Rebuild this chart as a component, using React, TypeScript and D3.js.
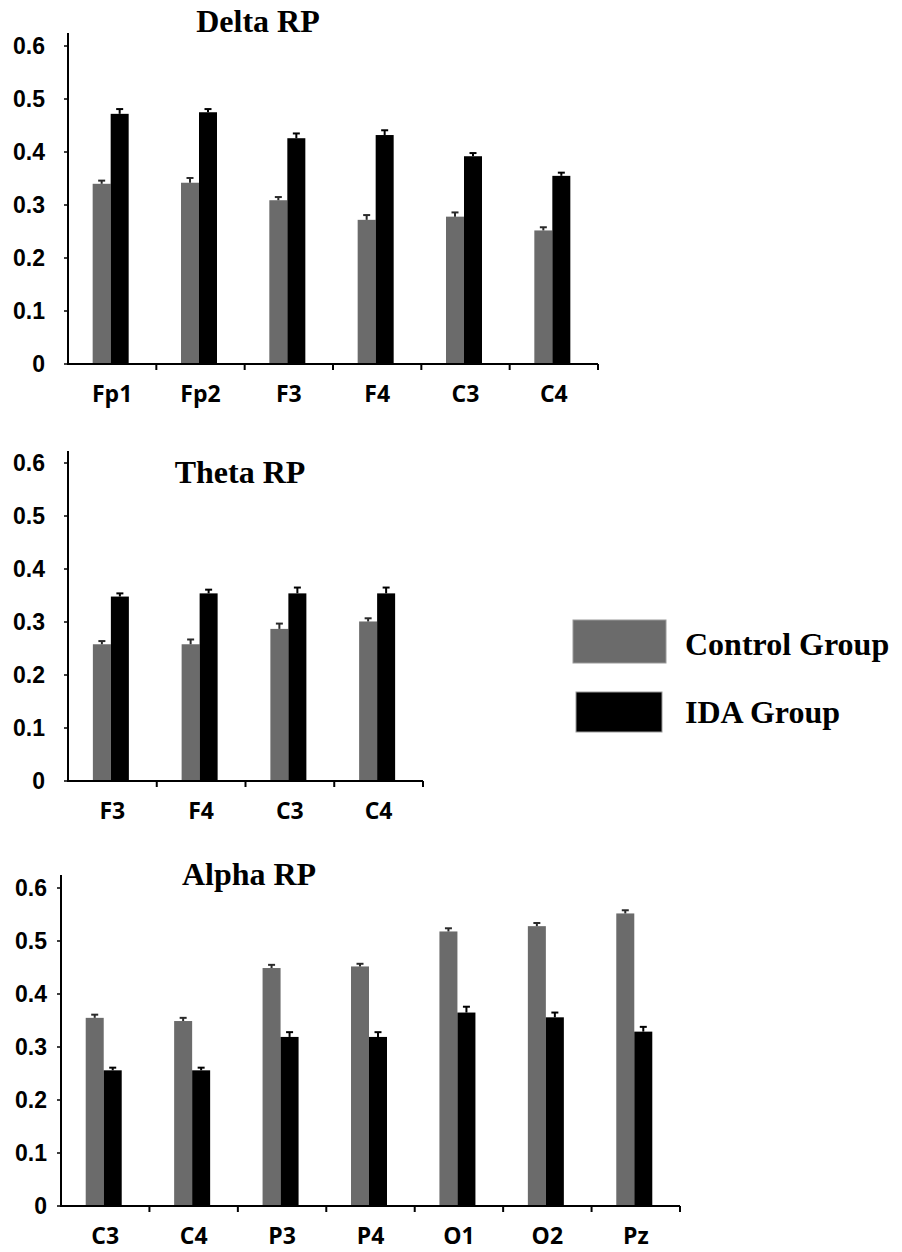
import React from "react";
import * as d3 from "d3";

const Y_TICKS = [0, 0.1, 0.2, 0.3, 0.4, 0.5, 0.6];
const Y_TICK_LABELS = ["0", "0.1", "0.2", "0.3", "0.4", "0.5", "0.6"];

const DELTA_CATS = ["Fp1", "Fp2", "F3", "F4", "C3", "C4"];
const DELTA_CONTROL = [0.34, 0.342, 0.309, 0.272, 0.278, 0.252];
const DELTA_CONTROL_ERR = [0.006, 0.009, 0.006, 0.009, 0.008, 0.006];
const DELTA_IDA = [0.472, 0.475, 0.426, 0.432, 0.392, 0.355];
const DELTA_IDA_ERR = [0.009, 0.006, 0.009, 0.009, 0.006, 0.006];

const THETA_CATS = ["F3", "F4", "C3", "C4"];
const THETA_CONTROL = [0.258, 0.258, 0.287, 0.301];
const THETA_CONTROL_ERR = [0.006, 0.009, 0.01, 0.006];
const THETA_IDA = [0.348, 0.354, 0.354, 0.354];
const THETA_IDA_ERR = [0.006, 0.007, 0.011, 0.011];

const ALPHA_CATS = ["C3", "C4", "P3", "P4", "O1", "O2", "Pz"];
const ALPHA_CONTROL = [0.355, 0.349, 0.449, 0.452, 0.518, 0.528, 0.552];
const ALPHA_CONTROL_ERR = [0.006, 0.006, 0.006, 0.005, 0.006, 0.006, 0.006];
const ALPHA_IDA = [0.256, 0.256, 0.319, 0.319, 0.365, 0.356, 0.329];
const ALPHA_IDA_ERR = [0.005, 0.005, 0.009, 0.009, 0.011, 0.009, 0.009];

const SERIES = ["Control Group", "IDA Group"];
const COLORS = ["#6b6b6b", "#000000"];
const ERR_COLORS = ["#2a2a2a", "#000000"];

const SERIF = "'Liberation Serif', 'Times New Roman', serif";
const SANS = "'Liberation Sans', Arial, sans-serif";
const XFONT = "'Open Sans', 'Liberation Sans', sans-serif";

type PanelProps = {
  title: string;
  titleX: number;
  titleY: number;
  cats: string[];
  control: number[];
  controlErr: number[];
  ida: number[];
  idaErr: number[];
  axisX: number;
  axisEnd: number;
  y0: number;
  axisTop: number;
  labelRight: number;
};

function Panel(p: PanelProps) {
  const x = d3.scaleBand<string>().domain(p.cats).range([p.axisX, p.axisEnd]).padding(0);
  const y = d3.scaleLinear().domain([0, 0.6]).range([p.y0, p.y0 - 318]);
  const pairW = 36;
  const sub = d3.scaleBand<string>().domain(SERIES).range([0, pairW]).padding(0);
  const values = [p.control, p.ida];
  const errs = [p.controlErr, p.idaErr];
  const bw = x.bandwidth();
  return (
    <g>
      <text x={p.titleX} y={p.titleY} textAnchor="middle" fontFamily={SERIF} fontWeight="bold" fontSize={32}>
        {p.title}
      </text>
      {p.cats.map((c, i) =>
        SERIES.map((s, si) => {
          const left = (x(c) as number) + bw / 2 - pairW / 2 - 1.5 + (sub(s) as number);
          const v = values[si][i];
          const e = errs[si][i];
          const cx = left + sub.bandwidth() / 2;
          return (
            <g key={c + s}>
              <rect x={left} y={y(v)} width={sub.bandwidth()} height={p.y0 - y(v)} fill={COLORS[si]} />
              <line x1={cx} x2={cx} y1={y(v)} y2={y(v + e)} stroke={ERR_COLORS[si]} strokeWidth={2} />
              <line x1={cx - 3.5} x2={cx + 3.5} y1={y(v + e)} y2={y(v + e)} stroke={ERR_COLORS[si]} strokeWidth={2} />
            </g>
          );
        })
      )}
      <line x1={p.axisX} x2={p.axisX} y1={p.axisTop} y2={p.y0 + 1} stroke="#000" strokeWidth={2} />
      <line x1={p.axisX} x2={p.axisEnd} y1={p.y0} y2={p.y0} stroke="#000" strokeWidth={2} />
      {Y_TICKS.map((t, i) => (
        <g key={"yt" + i}>
          <line x1={p.axisX - 4} x2={p.axisX} y1={y(t)} y2={y(t)} stroke="#000" strokeWidth={1.5} />
          <text
            x={p.labelRight}
            y={y(t)}
            dy="0.36em"
            textAnchor="end"
            fontFamily={SANS}
            fontWeight="bold"
            fontSize={23}
          >
            {Y_TICK_LABELS[i]}
          </text>
        </g>
      ))}
      {p.cats.map((c) => (
        <line
          key={"xt" + c}
          x1={(x(c) as number) + bw}
          x2={(x(c) as number) + bw}
          y1={p.y0}
          y2={p.y0 + 6}
          stroke="#000"
          strokeWidth={2}
        />
      ))}
      {p.cats.map((c) => (
        <text
          key={"xl" + c}
          x={(x(c) as number) + bw / 2}
          y={p.y0 + 38}
          textAnchor="middle"
          fontFamily={XFONT}
          fontWeight={700}
          fontSize={23}
        >
          {c}
        </text>
      ))}
    </g>
  );
}

export default function App() {
  return (
    <svg
      width={902}
      height={1252}
      style={{ position: "absolute", left: 0, top: 0, background: "#fff" }}
    >
      <rect x={0} y={0} width={902} height={1252} fill="#fff" />
      <Panel
        title="Delta RP"
        titleX={258}
        titleY={32}
        cats={DELTA_CATS}
        control={DELTA_CONTROL}
        controlErr={DELTA_CONTROL_ERR}
        ida={DELTA_IDA}
        idaErr={DELTA_IDA_ERR}
        axisX={68}
        axisEnd={598}
        y0={364}
        axisTop={33}
        labelRight={45}
      />
      <Panel
        title="Theta RP"
        titleX={240}
        titleY={483}
        cats={THETA_CATS}
        control={THETA_CONTROL}
        controlErr={THETA_CONTROL_ERR}
        ida={THETA_IDA}
        idaErr={THETA_IDA_ERR}
        axisX={68}
        axisEnd={423}
        y0={781}
        axisTop={451}
        labelRight={45}
      />
      <Panel
        title="Alpha RP"
        titleX={249}
        titleY={885}
        cats={ALPHA_CATS}
        control={ALPHA_CONTROL}
        controlErr={ALPHA_CONTROL_ERR}
        ida={ALPHA_IDA}
        idaErr={ALPHA_IDA_ERR}
        axisX={61}
        axisEnd={680}
        y0={1206}
        axisTop={875}
        labelRight={47}
      />
      <g>
        <rect x={573} y={620} width={93} height={43} fill={COLORS[0]} stroke="#9a9a9a" strokeWidth={1} />
        <text x={685} y={655} fontFamily={SERIF} fontWeight="bold" fontSize={32}>
          {SERIES[0]}
        </text>
        <rect x={576} y={692} width={86} height={40} fill={COLORS[1]} stroke="#9a9a9a" strokeWidth={1} />
        <text x={685} y={723} fontFamily={SERIF} fontWeight="bold" fontSize={32}>
          {SERIES[1]}
        </text>
      </g>
    </svg>
  );
}
